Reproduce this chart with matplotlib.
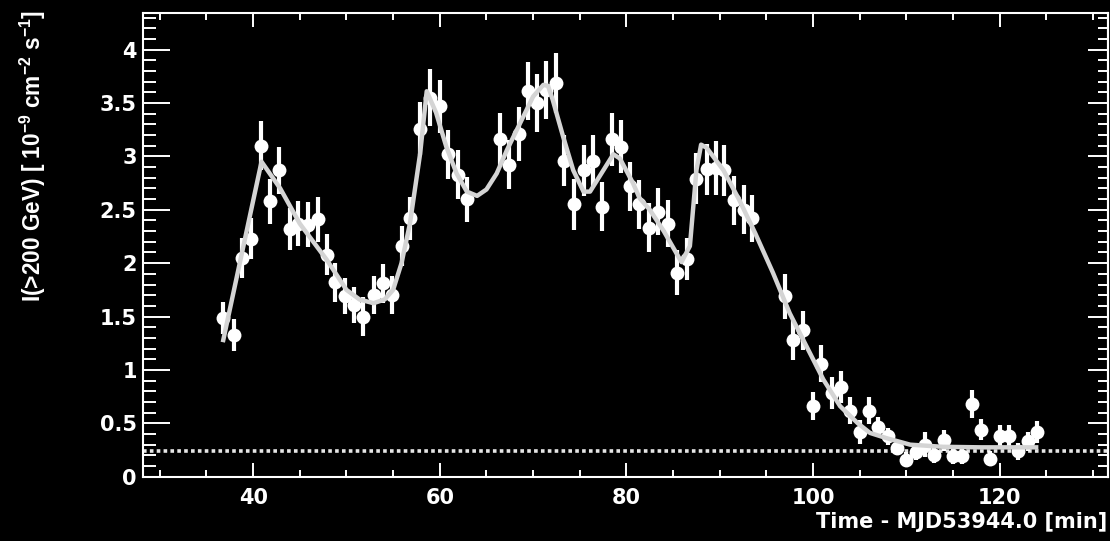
"""Light curve with fitted flare model, dark ROOT-style canvas."""

import matplotlib

matplotlib.use("Agg")
import matplotlib.pyplot as plt
from matplotlib.ticker import MultipleLocator

# ---- data ----
time_min = [
    36.8, 37.9, 38.8, 39.8, 40.8, 41.8, 42.8, 43.9, 44.8, 45.9, 46.9, 47.9,
    48.8, 49.8, 50.8, 51.8, 52.9, 53.9, 54.9, 55.9, 56.8, 57.9, 58.9, 60.0,
    60.9, 62.0, 62.9,
    66.4, 67.4, 68.5, 69.4, 70.4, 71.4, 72.4, 73.3, 74.4, 75.4, 76.4, 77.4,
    78.4, 79.4, 80.4, 81.4, 82.4, 83.4, 84.5, 85.4, 86.5, 87.5, 88.6, 89.6,
    90.5, 91.5, 92.6, 93.5,
    97.0, 97.9, 98.9, 100.0, 100.9, 102.0, 103.0, 104.0, 105.0, 106.0,
    107.0, 108.0, 109.0, 110.0, 111.0, 112.0, 113.0, 114.0, 115.0, 116.0,
    117.0, 118.0, 119.0, 120.0, 121.0, 122.0, 123.0, 124.0,
]
flux = [
    1.49, 1.33, 2.05, 2.23, 3.10, 2.58, 2.87, 2.32, 2.37, 2.36, 2.41, 2.08,
    1.82, 1.69, 1.61, 1.50, 1.70, 1.81, 1.70, 2.16, 2.42, 3.26, 3.55, 3.47,
    3.02, 2.83, 2.60,
    3.16, 2.92, 3.21, 3.61, 3.50, 3.62, 3.69, 2.96, 2.55, 2.87, 2.96, 2.53,
    3.16, 3.09, 2.72, 2.55, 2.33, 2.48, 2.37, 1.91, 2.04, 2.79, 2.88, 2.89,
    2.87, 2.59, 2.50, 2.42,
    1.69, 1.28, 1.37, 0.66, 1.06, 0.78, 0.84, 0.62, 0.42, 0.62,
    0.47, 0.38, 0.27, 0.16, 0.23, 0.30, 0.20, 0.34, 0.19, 0.19,
    0.68, 0.44, 0.17, 0.38, 0.38, 0.24, 0.33, 0.42,
]
flux_err = [
    0.15, 0.15, 0.19, 0.19, 0.23, 0.21, 0.22, 0.20, 0.21, 0.21, 0.21, 0.19,
    0.18, 0.17, 0.17, 0.18, 0.18, 0.18, 0.18, 0.19, 0.20, 0.25, 0.27, 0.25,
    0.23, 0.23, 0.21,
    0.25, 0.23, 0.25, 0.27, 0.27, 0.27, 0.28, 0.24, 0.24, 0.24, 0.24, 0.23,
    0.25, 0.25, 0.23, 0.23, 0.23, 0.22, 0.22, 0.21, 0.20, 0.24, 0.24, 0.25,
    0.24, 0.23, 0.23, 0.22,
    0.21, 0.19, 0.18, 0.13, 0.17, 0.15, 0.15, 0.13, 0.11, 0.13,
    0.09, 0.08, 0.07, 0.07, 0.07, 0.12, 0.07, 0.10, 0.07, 0.07,
    0.13, 0.10, 0.07, 0.10, 0.10, 0.08, 0.09, 0.10,
]

fit_time = [
    36.8, 40.9, 42.9, 45.0, 47.9, 50.0, 51.4, 52.9, 54.1, 55.0, 55.9, 56.8,
    57.9, 58.6, 59.6, 60.7, 61.8, 62.9, 64.0, 65.0, 66.1, 67.2, 68.6, 70.0,
    71.1, 71.6, 72.1, 73.2, 74.3, 75.4, 76.1, 77.1, 78.6, 79.3, 80.7, 81.4,
    82.5, 84.0, 85.9, 86.8, 87.5, 88.0, 88.6, 90.4, 92.1, 93.8, 95.7, 97.5,
    99.3, 101.1, 102.9, 104.8, 106.1, 107.9, 110.4, 113.9, 118.0, 123.9,
]
fit_flux = [
    1.28, 2.95, 2.70, 2.37, 2.03, 1.75, 1.66, 1.625, 1.66, 1.75, 2.00, 2.37,
    3.03, 3.61, 3.41, 3.09, 2.84, 2.67, 2.63, 2.69, 2.84, 3.06, 3.31, 3.56,
    3.67, 3.66, 3.53, 3.19, 2.87, 2.67, 2.67, 2.81, 3.02, 2.98, 2.75, 2.61,
    2.50, 2.30, 2.01, 2.16, 2.87, 3.11, 3.08, 2.87, 2.59, 2.28, 1.91, 1.53,
    1.22, 0.91, 0.66, 0.50, 0.41, 0.36, 0.30, 0.28, 0.275, 0.275,
]
baseline_flux = 0.244

x_ticks = [40, 60, 80, 100, 120]
y_ticks = [0, 0.5, 1, 1.5, 2, 2.5, 3, 3.5, 4]
y_tick_labels = ["0", "0.5", "1", "1.5", "2", "2.5", "3", "3.5", "4"]

FG = "white"
FIT_COLOR = "#d4d4d4"
TICK_FONT = dict(family="DejaVu Sans", weight="bold", size=15)

plt.rcParams.update(
    {
        "mathtext.fontset": "custom",
        "mathtext.rm": "Liberation Sans:bold",
        "mathtext.default": "rm",
    }
)

fig = plt.figure(figsize=(11.1, 5.41), dpi=100, facecolor="black")
ax = fig.add_axes([143 / 1110, 1 - 476.7 / 541, (1108 - 143) / 1110, (476.7 - 13.3) / 541])
ax.set_facecolor("black")

ax.errorbar(
    time_min,
    flux,
    yerr=flux_err,
    fmt="o",
    color=FG,
    ms=10,
    mec="none",
    elinewidth=3.0,
    capsize=0,
    zorder=3,
)
ax.plot(fit_time, fit_flux, color=FIT_COLOR, lw=3.2, zorder=4, solid_joinstyle="round")
ax.axhline(
    baseline_flux,
    color="#e6e6e6",
    lw=2.6,
    linestyle=(0, (1, 0.9)),
    dash_capstyle="butt",
    zorder=2,
)

ax.set_xlim(28.2, 131.6)
ax.set_ylim(0, 4.34)

ax.set_xticks(x_ticks)
ax.set_xticklabels([str(v) for v in x_ticks], **TICK_FONT)
ax.xaxis.set_minor_locator(MultipleLocator(5))
ax.set_yticks(y_ticks)
ax.set_yticklabels(y_tick_labels, **TICK_FONT)
ax.yaxis.set_minor_locator(MultipleLocator(0.1))

ax.tick_params(axis="x", which="major", direction="in", length=10, width=1.4,
               color=FG, labelcolor=FG, top=True, pad=8)
ax.tick_params(axis="x", which="minor", direction="in", length=5, width=1.4,
               color=FG, top=True)
ax.tick_params(axis="y", which="major", direction="in", length=19.5, width=1.4,
               color=FG, labelcolor=FG, pad=4.5)
ax.tick_params(axis="y", which="minor", direction="in", length=9.5, width=1.4,
               color=FG)

for spine in ax.spines.values():
    spine.set_color(FG)
    spine.set_linewidth(1.5)

# right-hand ticks are shorter than the left-hand ones
sec = ax.secondary_yaxis("right")
sec.set_yticks(y_ticks)
sec.yaxis.set_minor_locator(MultipleLocator(0.1))
sec.tick_params(axis="y", which="major", direction="in", length=14.4, width=1.4,
                color=FG, labelright=False)
sec.tick_params(axis="y", which="minor", direction="in", length=7.2, width=1.4,
                color=FG)
sec.spines["right"].set_color(FG)
sec.spines["right"].set_linewidth(1.5)

fig.text(
    1107 / 1110,
    1 - 522 / 541,
    "Time - MJD53944.0 [min]",
    ha="right",
    va="center",
    color=FG,
    **TICK_FONT,
)
fig.text(
    33 / 1110,
    1 - 10 / 541,
    r"I(>200 GeV) [ 10$^{-9}$ cm$^{-2}$ s$^{-1}$]",
    rotation=90,
    ha="center",
    va="top",
    color=FG,
    family="Liberation Sans",
    weight="bold",
    size=16.3,
)

fig.savefig("out.png", dpi=100, facecolor="black")
